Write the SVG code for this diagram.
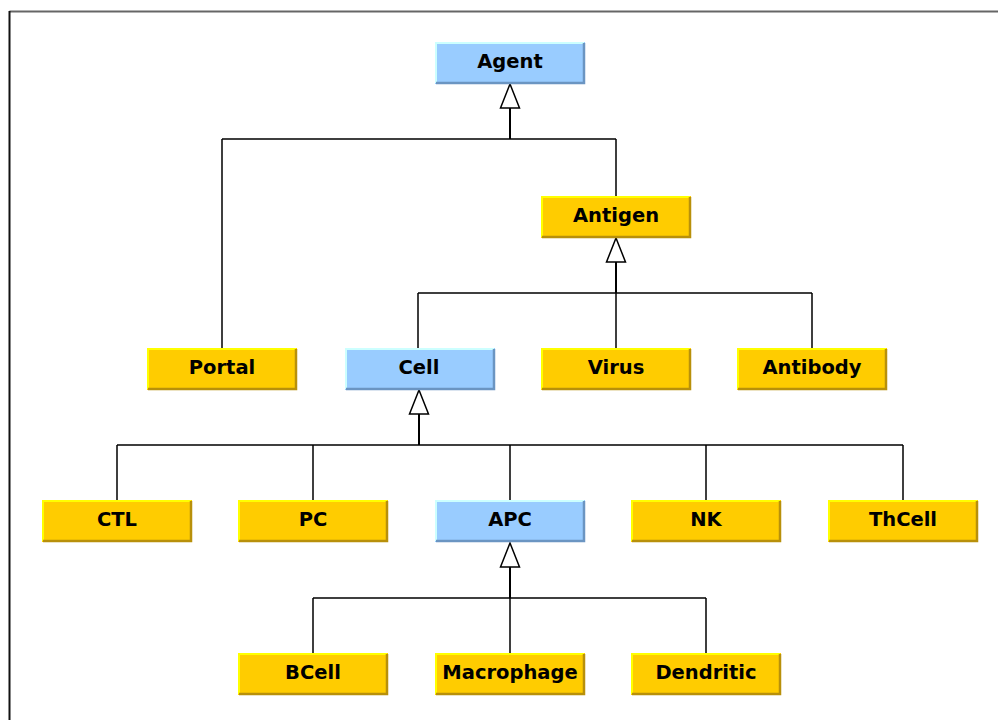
<svg xmlns="http://www.w3.org/2000/svg" width="998" height="720" viewBox="0 0 998 720">
  <style>
    .box-y { fill: #ffcc00; }
    .box-b { fill: #99ccff; }
    .hl-y { stroke: #ffff00; stroke-width: 2; fill: none; }
    .hl-b { stroke: #ccffff; stroke-width: 2; fill: none; }
    .sh-y { stroke: #b8900a; stroke-width: 2.5; fill: none; }
    .sh-b { stroke: #6b95c2; stroke-width: 2.5; fill: none; }
    .label { font-family: "DejaVu Sans", "Liberation Sans", sans-serif; font-weight: bold; font-size: 19.5px; fill: #000; text-anchor: middle; }
    .conn { stroke: #000; stroke-width: 1.5; fill: none; }
    .stem { stroke: #000; stroke-width: 2; fill: none; }
    .head { stroke: #000; stroke-width: 1.5; fill: #fff; stroke-linejoin: miter; }
  </style>
  <defs>
    <g id="yellowBox">
      <rect class="box-y" x="0" y="0" width="150" height="42"/>
      <path class="hl-y" d="M1,41 V1 H149"/>
      <path class="sh-y" d="M1,41 H149 V1"/>
    </g>
    <g id="blueBox">
      <rect class="box-b" x="0" y="0" width="150" height="42"/>
      <path class="hl-b" d="M1,41 V1 H149"/>
      <path class="sh-b" d="M1,41 H149 V1"/>
    </g>
  </defs>

  <rect x="0" y="0" width="998" height="720" fill="#fff"/>

  <!-- outer frame -->
  <path d="M9.5,11.5 H998" stroke="#666" stroke-width="2" fill="none"/>
  <path d="M9.5,11 V720" stroke="#111" stroke-width="2" fill="none"/>

  <g id="connectors">
    <!-- Agent generalization -->
    <path class="stem" d="M510,108 V139"/>
    <path class="conn" d="M222,139 H616 M222,139 V348 M616,139 V196"/>
    <polygon class="head" points="510,84 500.5,108 519.5,108"/>

    <!-- Antigen generalization -->
    <path class="stem" d="M616,262 V293"/>
    <path class="conn" d="M418,293 H812 M418,293 V348 M616,293 V348 M812,293 V348"/>
    <polygon class="head" points="616,238 606.5,262 625.5,262"/>

    <!-- Cell generalization -->
    <path class="stem" d="M419,414 V445"/>
    <path class="conn" d="M117,445 H903 M117,445 V500 M313,445 V500 M510,445 V500 M706,445 V500 M903,445 V500"/>
    <polygon class="head" points="419,390 409.5,414 428.5,414"/>

    <!-- APC generalization -->
    <path class="stem" d="M510,567 V598"/>
    <path class="conn" d="M313,598 H706 M313,598 V653 M510,598 V653 M706,598 V653"/>
    <polygon class="head" points="510,543 500.5,567 519.5,567"/>
  </g>

  <g id="agent" transform="translate(435,42)">
    <use href="#blueBox"/>
    <text class="label" x="75" y="25.5">Agent</text>
  </g>
  <g id="antigen" transform="translate(541,196)">
    <use href="#yellowBox"/>
    <text class="label" x="75" y="25.5">Antigen</text>
  </g>
  <g id="portal" transform="translate(147,348)">
    <use href="#yellowBox"/>
    <text class="label" x="75" y="25.5">Portal</text>
  </g>
  <g id="cell" transform="translate(345,348)">
    <use href="#blueBox"/>
    <text class="label" x="74" y="25.5">Cell</text>
  </g>
  <g id="virus" transform="translate(541,348)">
    <use href="#yellowBox"/>
    <text class="label" x="75" y="25.5">Virus</text>
  </g>
  <g id="antibody" transform="translate(737,348)">
    <use href="#yellowBox"/>
    <text class="label" x="75" y="25.5">Antibody</text>
  </g>
  <g id="ctl" transform="translate(42,500)">
    <use href="#yellowBox"/>
    <text class="label" x="75" y="25.5">CTL</text>
  </g>
  <g id="pc" transform="translate(238,500)">
    <use href="#yellowBox"/>
    <text class="label" x="75" y="25.5">PC</text>
  </g>
  <g id="apc" transform="translate(435,500)">
    <use href="#blueBox"/>
    <text class="label" x="75" y="25.5">APC</text>
  </g>
  <g id="nk" transform="translate(631,500)">
    <use href="#yellowBox"/>
    <text class="label" x="75" y="25.5">NK</text>
  </g>
  <g id="thcell" transform="translate(828,500)">
    <use href="#yellowBox"/>
    <text class="label" x="75" y="25.5">ThCell</text>
  </g>
  <g id="bcell" transform="translate(238,653)">
    <use href="#yellowBox"/>
    <text class="label" x="75" y="25.5">BCell</text>
  </g>
  <g id="macrophage" transform="translate(435,653)">
    <use href="#yellowBox"/>
    <text class="label" x="75" y="25.5">Macrophage</text>
  </g>
  <g id="dendritic" transform="translate(631,653)">
    <use href="#yellowBox"/>
    <text class="label" x="75" y="25.5">Dendritic</text>
  </g>
</svg>
